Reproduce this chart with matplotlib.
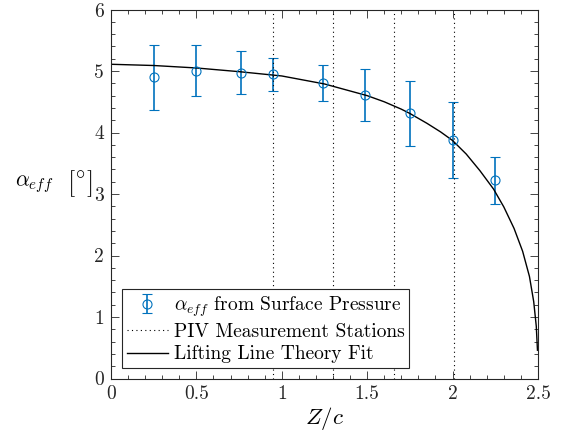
import matplotlib
matplotlib.use('Agg')
import matplotlib.pyplot as plt
from matplotlib.ticker import MultipleLocator, FormatStrFormatter

plt.rcParams['font.family'] = 'serif'
plt.rcParams['font.serif'] = ['cmr10']
plt.rcParams['mathtext.fontset'] = 'cm'
plt.rcParams['axes.formatter.use_mathtext'] = True
plt.rcParams['axes.unicode_minus'] = False

# surface pressure estimates of alpha_eff
z_sp = [0.25, 0.5, 0.76, 0.95, 1.24, 1.49, 1.75, 2.0, 2.25]
alpha_sp = [4.90, 5.00, 4.97, 4.95, 4.80, 4.61, 4.31, 3.88, 3.22]
err_hi = [5.42, 5.42, 5.33, 5.22, 5.10, 5.03, 4.84, 4.50, 3.61]
err_lo = [4.37, 4.60, 4.62, 4.68, 4.51, 4.19, 3.78, 3.26, 2.84]

# PIV stations
z_piv = [0.95, 1.3, 1.66, 2.01]

# lifting line theory fit
z_llt = [0, 0.25, 0.5, 0.75, 1.0, 1.25, 1.5, 1.6, 1.7, 1.75, 1.85, 1.93,
         2.0, 2.08, 2.16, 2.24, 2.30, 2.36, 2.41, 2.45, 2.475, 2.49, 2.497]
alpha_llt = [5.11, 5.09, 5.05, 4.99, 4.92, 4.79, 4.60, 4.50, 4.38, 4.31,
             4.15, 4.01, 3.87, 3.65, 3.38, 3.08, 2.79, 2.44, 2.07, 1.66,
             1.25, 0.85, 0.46]

yerr = [[a - lo for a, lo in zip(alpha_sp, err_lo)],
        [hi - a for a, hi in zip(alpha_sp, err_hi)]]

fig = plt.figure(figsize=(5.66, 4.44), dpi=100)
ax = fig.add_axes([0.196, 0.1475, 0.7545, 0.831])

eb = ax.errorbar(z_sp, alpha_sp, yerr=yerr, fmt='o', color='#0072BD',
                 mfc='none', ms=6.5, mew=0.8, elinewidth=1.2, capsize=3.3,
                 capthick=1.2, label=r'$\alpha_{eff}$ from Surface Pressure')
piv = None
for z in z_piv:
    piv, = ax.plot([z, z], [0, 6], color='k', lw=0.8, ls=(0, (1, 3)),
                   label='PIV Measurement Stations')
llt, = ax.plot(z_llt, alpha_llt, '-', color='k', lw=1.0,
               label='Lifting Line Theory Fit')

ax.set_xlim(0, 2.5)
ax.set_ylim(0, 6)
ax.xaxis.set_major_locator(MultipleLocator(0.5))
ax.xaxis.set_minor_locator(MultipleLocator(0.1))
ax.yaxis.set_major_locator(MultipleLocator(1))
ax.yaxis.set_minor_locator(MultipleLocator(0.2))
ax.xaxis.set_major_formatter(FormatStrFormatter('%g'))
ax.yaxis.set_major_formatter(FormatStrFormatter('%g'))
ax.tick_params(which='both', direction='in', top=True, right=True,
               labelsize=14, colors='#262626', width=0.6)
ax.tick_params(which='major', length=5.5)
ax.tick_params(which='minor', length=3)
ax.tick_params(axis='x', pad=5)
ax.tick_params(axis='y', pad=5)
for s in ax.spines.values():
    s.set_color('#262626')
    s.set_linewidth(0.8)

ax.set_xlabel(r'$Z/c$', fontsize=16.5, labelpad=1)
# y label: alpha_eff with big brackets around the degree sign
fig.text(15 / 566, 1 - 184 / 444, r'$\alpha_{eff}$', fontsize=15.5,
         ha='left', va='center')
fig.text(67 / 566, 1 - 184 / 444, r'$[^{\circ}]$', fontsize=19,
         ha='left', va='center')

leg = ax.legend(handles=[eb, piv, llt], loc='lower left',
                bbox_to_anchor=(0.026, 0.028), borderaxespad=0,
                fontsize=14, fancybox=False, framealpha=1,
                edgecolor='#262626', handlelength=2.1, borderpad=0.25,
                labelspacing=0.22, handletextpad=0.3)
leg.get_frame().set_linewidth(0.8)

fig.savefig('out.png', dpi=100)
